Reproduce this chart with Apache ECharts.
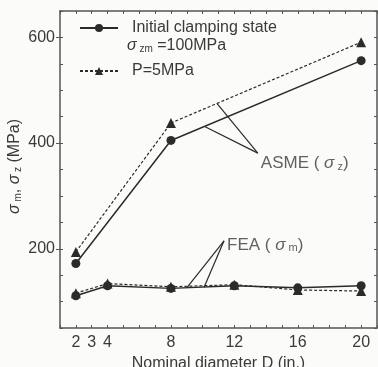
<!DOCTYPE html>
<html>
<head>
<meta charset="utf-8">
<script src="https://cdn.jsdelivr.net/npm/echarts@6/dist/echarts.min.js"></script>
<style>
  html, body { margin: 0; padding: 0; background: #fbfbfa; }
  #chart { width: 378px; height: 367px; }
</style>
</head>
<body>
<div id="chart"></div>
<script>
// nominal diameters (in.)
const diameters = [2, 4, 8, 12, 16, 20]
const asmeDiameters = [2, 8, 20]
// ASME sigma_z
const asmeInitial = [172, 405, 556]
const asmePressure = [194, 438, 591]
// FEA sigma_m
const feaInitial = [111, 130, 125, 130, 126, 130]
const feaPressure = [116, 134, 128, 132, 122, 120]

const xTickLabels = [2, 3, 4, 8, 12, 16, 20]
const yTickLabels = [200, 400, 600]

// leader lines for the notes
const asmeLeaders = [[[13.48, 381], [10.9, 475]], [[13.48, 381], [10.16, 431]]]
const feaLeaders = [[[11.35, 215], [9.02, 127]], [[11.35, 215], [10.09, 127]]]
const notes = [
  { pos: [13.48, 381], text: 'ASME ( {s|σ}{sub| z})', shift: 10 },
  { pos: [11.35, 215], text: 'FEA ( {s|σ}{sub| m})', shift: 4 }
]

const ink = '#2b2b2b'
const textColor = '#3a3a3a'
const nameInitial = 'Initial clamping state'
const namePressure = 'P=5MPa'

const pair = (xs, ys) => xs.map((x, i) => [x, ys[i]])

const chart = echarts.init(document.getElementById('chart'))

function rich(size) {
  return {
    s: { fontStyle: 'italic', fontSize: size, color: textColor, fontFamily: 'Liberation Sans' },
    sub: { fontSize: Math.round(size * 0.65), color: textColor, fontFamily: 'Liberation Sans', padding: [Math.round(size * 0.4), 0, 0, 0] }
  }
}

function dataSeries(name, data, symbol, dashed) {
  return {
    name: name,
    type: 'line',
    data: data,
    symbol: symbol,
    symbolSize: symbol === 'circle' ? 9 : 10,
    itemStyle: { color: ink },
    lineStyle: { color: ink, width: dashed ? 1.2 : 1.5, type: dashed ? [3, 2] : 'solid' },
    z: 3
  }
}

function leaderSeries(lines) {
  return lines.map((seg) => ({
    type: 'line',
    data: seg,
    symbol: 'none',
    silent: true,
    lineStyle: { color: ink, width: 1.2 },
    z: 2
  }))
}

const option = {
  backgroundColor: '#fbfbfa',
  animation: false,
  textStyle: { fontFamily: 'Liberation Sans' },
  grid: { left: 60, right: 1, top: 11, bottom: 39, containLabel: false, outerBoundsMode: 'none' },
  legend: {
    data: [nameInitial, namePressure],
    orient: 'vertical',
    left: 74,
    top: 15,
    itemWidth: 38,
    itemHeight: 10,
    itemGap: 27,
    textStyle: { fontSize: 16, color: textColor, padding: [0, 0, 0, 9] }
  },
  xAxis: [
    {
      type: 'value', min: 1, max: 21, interval: 1,
      name: 'Nominal diameter D (in.)',
      nameLocation: 'middle', nameGap: 22,
      nameTextStyle: { fontSize: 16, color: textColor },
      axisLine: { lineStyle: { color: '#555', width: 1.5 } },
      axisTick: { inside: true, length: 3, lineStyle: { color: '#555' } },
      axisLabel: { customValues: xTickLabels, fontSize: 16, color: textColor, margin: 7 },
      splitLine: { show: false }
    },
    {
      type: 'value', min: 1, max: 21, interval: 1, position: 'top',
      axisLine: { lineStyle: { color: '#555', width: 1.5 } },
      axisTick: { inside: true, length: 3, lineStyle: { color: '#555' } },
      axisLabel: { show: false },
      splitLine: { show: false }
    }
  ],
  yAxis: [
    {
      type: 'value', min: 50, max: 650, interval: 50,
      axisLine: { lineStyle: { color: '#555', width: 1.5 } },
      axisTick: { inside: true, length: 3, lineStyle: { color: '#555' } },
      axisLabel: { customValues: yTickLabels, fontSize: 16, color: textColor, margin: 5 },
      splitLine: { show: false }
    },
    {
      type: 'value', min: 50, max: 650, interval: 50, position: 'right',
      axisLine: { lineStyle: { color: '#555', width: 1.5 } },
      axisTick: { inside: true, length: 3, lineStyle: { color: '#555' } },
      axisLabel: { show: false },
      splitLine: { show: false }
    },
    {
      // outward major ticks at the labelled values
      type: 'value', min: 50, max: 650, interval: 50, position: 'left',
      axisLine: { show: false },
      axisTick: { customValues: yTickLabels, length: 4, lineStyle: { color: '#555' } },
      axisLabel: { show: false },
      splitLine: { show: false }
    }
  ],
  graphic: [
    {
      type: 'text', left: 127, top: 38,
      style: {
        text: '{s|σ}{sub| zm} =100MPa', fontSize: 16, fill: textColor,
        rich: rich(16)
      }
    },
    {
      type: 'text', x: 7, y: 214, rotation: Math.PI / 2,
      style: {
        text: '{s|σ}{sub| m}, {s|σ}{sub| z} (MPa)', fontSize: 16, fill: textColor,
        rich: rich(16)
      }
    }
  ],
  series: [
    dataSeries(nameInitial, pair(asmeDiameters, asmeInitial), 'circle', false),
    dataSeries(namePressure, pair(asmeDiameters, asmePressure), 'triangle', true),
    dataSeries(nameInitial, pair(diameters, feaInitial), 'circle', false),
    dataSeries(namePressure, pair(diameters, feaPressure), 'triangle', true),
    ...leaderSeries(asmeLeaders),
    ...leaderSeries(feaLeaders),
    {
      type: 'scatter',
      data: notes.map((n) => ({ value: n.pos, label: { formatter: n.text, offset: [0, n.shift] } })),
      symbolSize: 0,
      silent: true,
      label: {
        show: true, position: 'right', distance: 3,
        fontSize: 17, color: textColor,
        rich: rich(17)
      }
    }
  ]
}

chart.setOption(option)
</script>
</body>
</html>
